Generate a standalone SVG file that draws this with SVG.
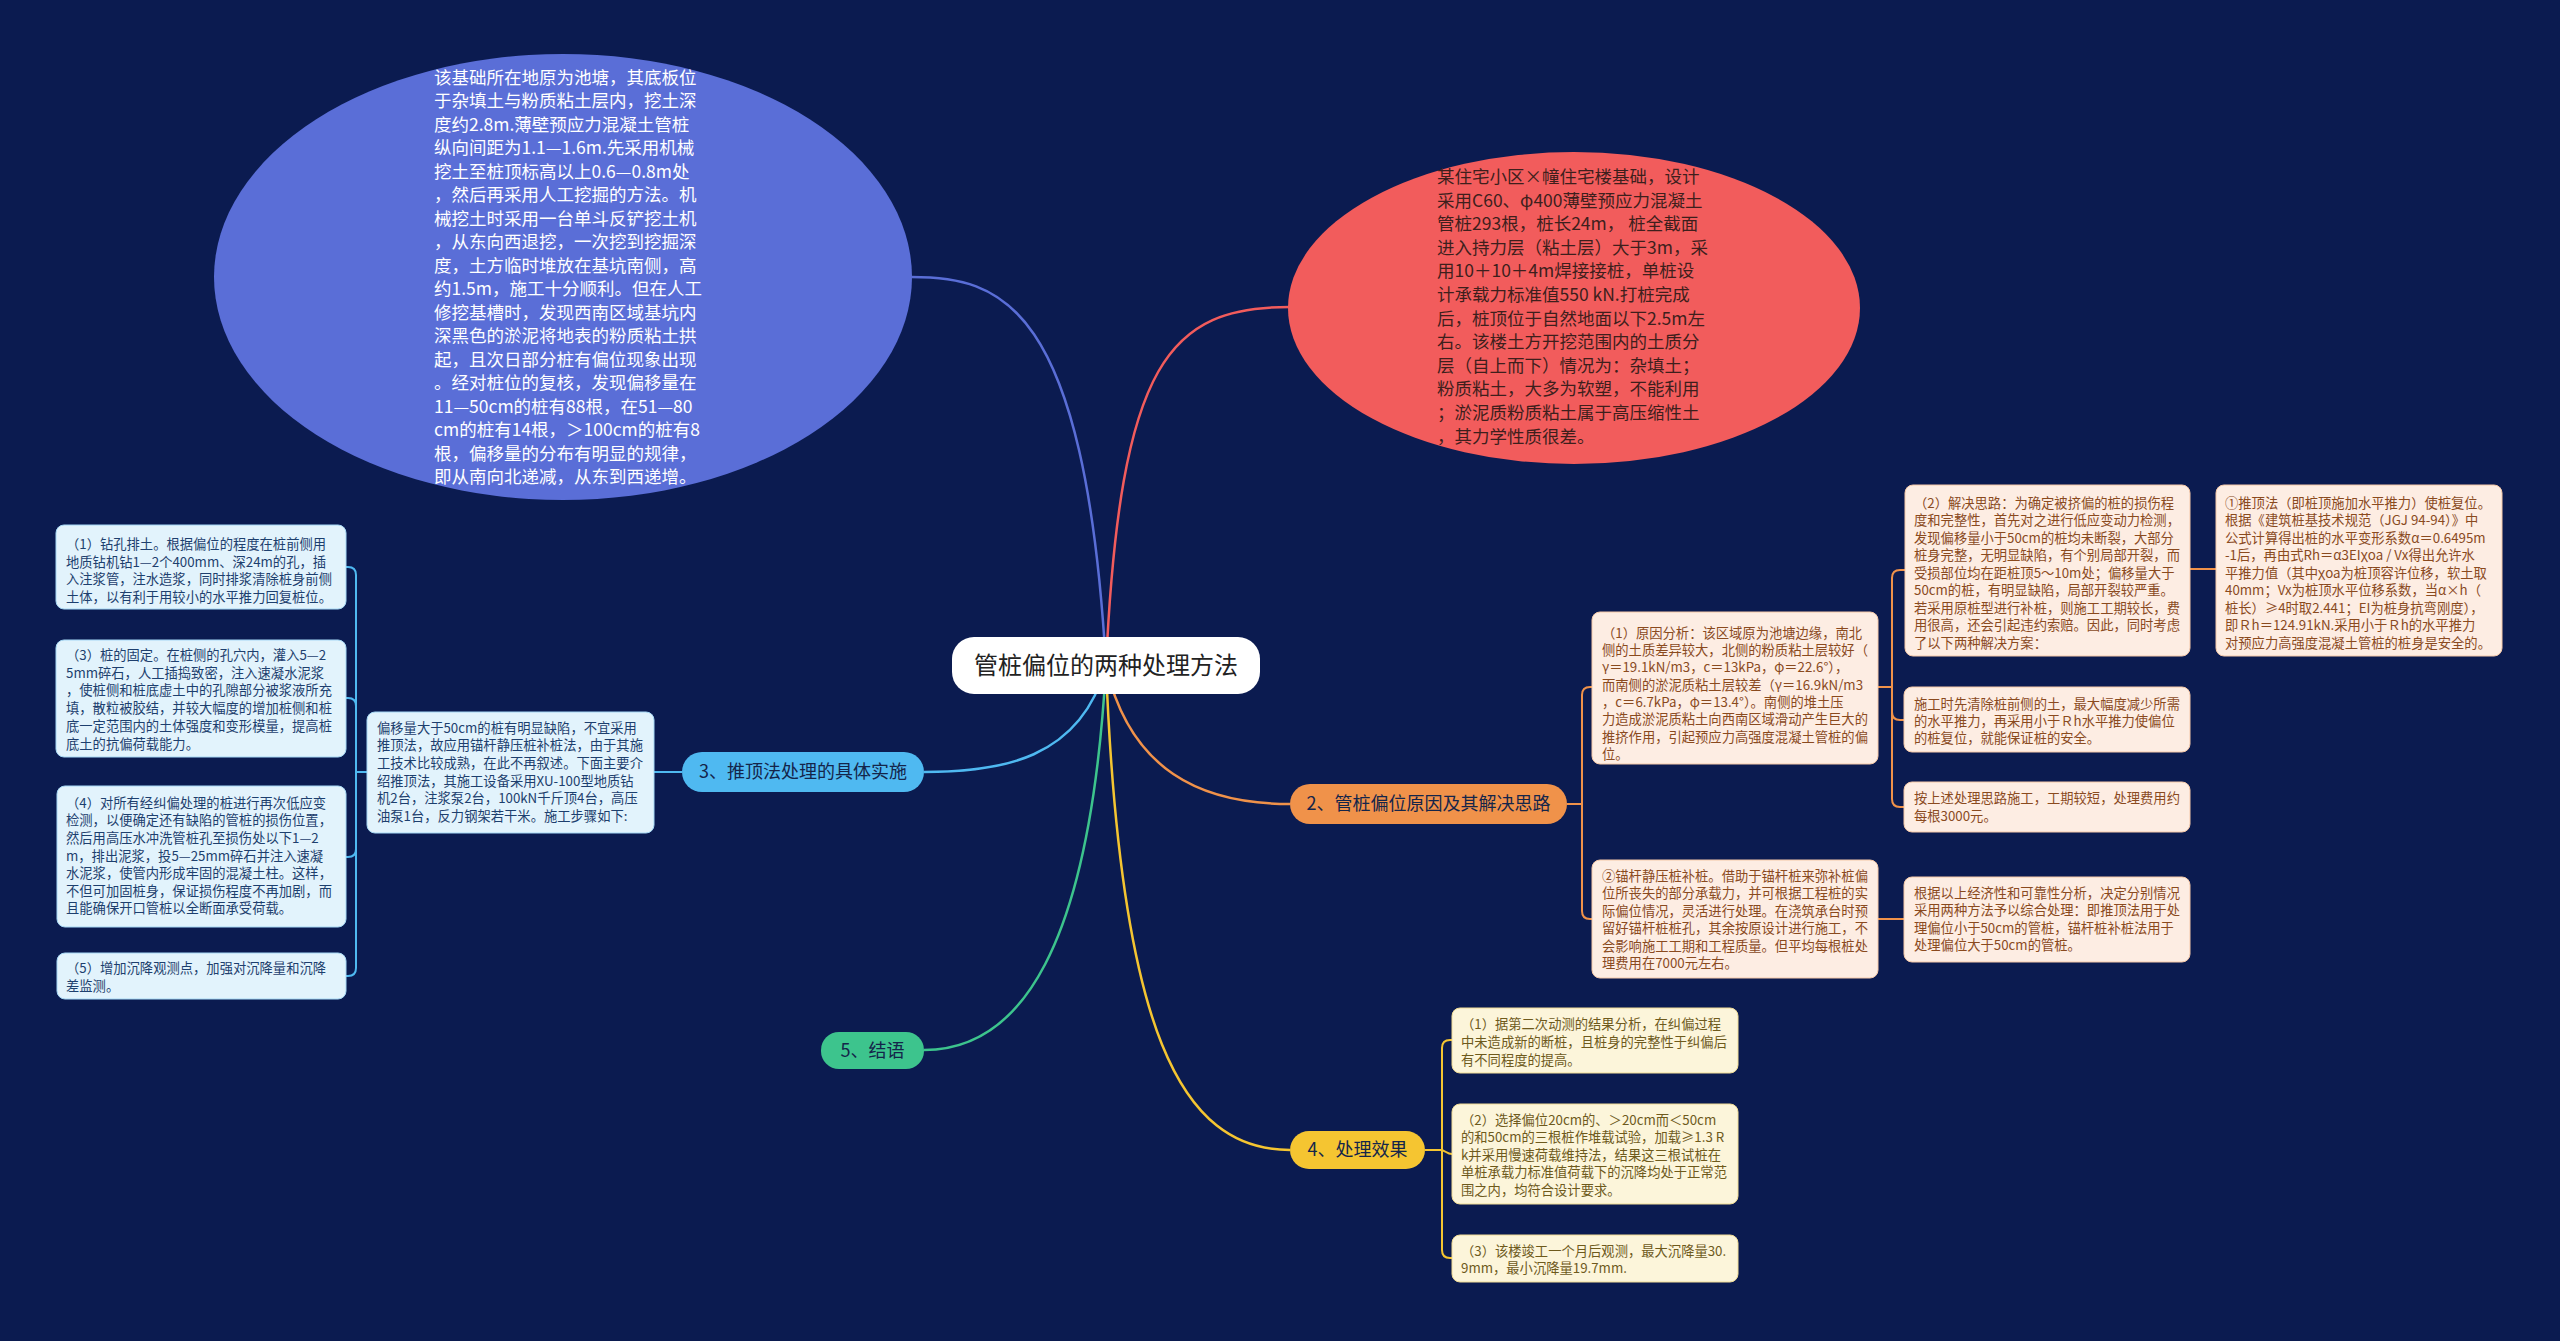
<svg xmlns="http://www.w3.org/2000/svg" width="2560" height="1341" viewBox="0 0 2560 1341">
<style>
text{font-family:"Noto Sans CJK SC","Microsoft YaHei",sans-serif}
.ell{font-size:17.5px}
.sm{font-size:13.3px}
.bl rect{fill:#e2f3fc;stroke:#a6d8f5;stroke-width:1}
.bl text{fill:#1d3f6e}
.or rect{fill:#fdede3;stroke:#f6c9a8;stroke-width:1}
.or text{fill:#8a4a1e}
.ye rect{fill:#fcf5da;stroke:#f1dc95;stroke-width:1}
.ye text{fill:#6e5a1c}
.br text{font-size:18px;fill:#14254a;text-anchor:middle}
.c{fill:none;stroke-width:2.5}
.k{fill:none;stroke-width:2}
</style>
<rect width="2560" height="1341" fill="#0b1b50"/>

<g id="connectors">
<path class="c" stroke="#5a6ed7" d="M1106 666 C1085 300 1000 277 911 277"/>
<path class="c" stroke="#f25c5c" d="M1106 666 C1120 360 1170 307 1290 307"/>
<path class="c" stroke="#4fb9f1" d="M1106 666 C1080 760 1000 772 924 772"/>
<path class="c" stroke="#f0924a" d="M1106 666 C1130 770 1200 804 1290 804"/>
<path class="c" stroke="#3dc48d" d="M1106 666 C1090 950 1020 1050 924 1050"/>
<path class="c" stroke="#f5c531" d="M1106 666 C1120 1030 1180 1150 1290 1150"/>
<path class="k" stroke="#4fb9f1" d="M682 772 L654 772"/>
<path class="k" stroke="#4fb9f1" d="M367 772 L356 772 L356 575 Q356 567 348 567 L346 567"/>
<path class="k" stroke="#4fb9f1" d="M367 772 L356 772 L356 706 Q356 698 348 698 L346 698"/>
<path class="k" stroke="#4fb9f1" d="M367 772 L356 772 L356 849 Q356 857 348 857 L346 857"/>
<path class="k" stroke="#4fb9f1" d="M367 772 L356 772 L356 968 Q356 976 348 976 L346 976"/>
<path class="k" stroke="#f0924a" d="M1567 804 L1582 804 L1582 695 Q1582 687 1590 687 L1592 687"/>
<path class="k" stroke="#f0924a" d="M1567 804 L1582 804 L1582 911 Q1582 919 1590 919 L1592 919"/>
<path class="k" stroke="#f0924a" d="M1878 687 L1892 687 L1892 578 Q1892 570 1900 570 L1905 570"/>
<path class="k" stroke="#f0924a" d="M1878 687 L1892 687 L1892 712 Q1892 720 1900 720 L1904 720"/>
<path class="k" stroke="#f0924a" d="M1878 687 L1892 687 L1892 799 Q1892 807 1900 807 L1904 807"/>
<path class="k" stroke="#f0924a" d="M2190 569 L2216 569"/>
<path class="k" stroke="#f0924a" d="M1878 919 L1904 919"/>
<path class="k" stroke="#f5c531" d="M1425 1150 L1442 1150 L1442 1048 Q1442 1040 1450 1040 L1452 1040"/>
<path class="k" stroke="#f5c531" d="M1425 1150 L1440 1150 C1446 1150 1446 1154 1452 1154"/>
<path class="k" stroke="#f5c531" d="M1425 1150 L1442 1150 L1442 1250 Q1442 1258 1450 1258 L1452 1258"/>
</g>

<g id="root">
<rect x="952" y="637" width="308" height="57" rx="22" fill="#ffffff"/>
<text x="1106" y="674" font-size="24" fill="#222222" text-anchor="middle">管桩偏位的两种处理方法</text>
</g>

<g id="ellipse-blue">
<ellipse cx="563" cy="277" rx="349" ry="223" fill="#5a6ed7"/>
<text class="ell" fill="#ffffff">
<tspan x="434" y="83.5">该基础所在地原为池塘，其底板位</tspan>
<tspan x="434" y="107">于杂填土与粉质粘土层内，挖土深</tspan>
<tspan x="434" y="130.5">度约2.8m.薄壁预应力混凝土管桩</tspan>
<tspan x="434" y="154">纵向间距为1.1—1.6m.先采用机械</tspan>
<tspan x="434" y="177.5">挖土至桩顶标高以上0.6—0.8m处</tspan>
<tspan x="434" y="201">，然后再采用人工挖掘的方法。机</tspan>
<tspan x="434" y="224.5">械挖土时采用一台单斗反铲挖土机</tspan>
<tspan x="434" y="248">，从东向西退挖，一次挖到挖掘深</tspan>
<tspan x="434" y="271.5">度，土方临时堆放在基坑南侧，高</tspan>
<tspan x="434" y="295">约1.5m，施工十分顺利。但在人工</tspan>
<tspan x="434" y="318.5">修挖基槽时，发现西南区域基坑内</tspan>
<tspan x="434" y="342">深黑色的淤泥将地表的粉质粘土拱</tspan>
<tspan x="434" y="365.5">起，且次日部分桩有偏位现象出现</tspan>
<tspan x="434" y="389">。经对桩位的复核，发现偏移量在</tspan>
<tspan x="434" y="412.5">11—50cm的桩有88根，在51—80</tspan>
<tspan x="434" y="436">cm的桩有14根，＞100cm的桩有8</tspan>
<tspan x="434" y="459.5">根，偏移量的分布有明显的规律，</tspan>
<tspan x="434" y="483">即从南向北递减，从东到西递增。</tspan>
</text>
</g>

<g id="ellipse-red">
<ellipse cx="1574" cy="308" rx="286" ry="156" fill="#f25c5c"/>
<text class="ell" fill="#3e1f1c">
<tspan x="1437" y="183">某住宅小区×幢住宅楼基础，设计</tspan>
<tspan x="1437" y="206.6">采用C60、φ400薄壁预应力混凝土</tspan>
<tspan x="1437" y="230.2">管桩293根，桩长24m， 桩全截面</tspan>
<tspan x="1437" y="253.8">进入持力层（粘土层）大于3m，采</tspan>
<tspan x="1437" y="277.4">用10＋10＋4m焊接接桩，单桩设</tspan>
<tspan x="1437" y="301">计承载力标准值550 kN.打桩完成</tspan>
<tspan x="1437" y="324.6">后，桩顶位于自然地面以下2.5m左</tspan>
<tspan x="1437" y="348.2">右。该楼土方开挖范围内的土质分</tspan>
<tspan x="1437" y="371.8">层（自上而下）情况为：杂填土；</tspan>
<tspan x="1437" y="395.4">粉质粘土，大多为软塑，不能利用</tspan>
<tspan x="1437" y="419">；淤泥质粉质粘土属于高压缩性土</tspan>
<tspan x="1437" y="442.6">，其力学性质很差。</tspan>
</text>
</g>

<g id="branch3" class="br">
<rect x="682" y="752" width="242" height="40" rx="20" fill="#4fb9f1"/>
<text x="803" y="778">3、推顶法处理的具体实施</text>
</g>
<g id="branch2" class="br">
<rect x="1290" y="784" width="277" height="40" rx="20" fill="#f0924a"/>
<text x="1428.5" y="810">2、管桩偏位原因及其解决思路</text>
</g>
<g id="branch5" class="br">
<rect x="821" y="1032" width="103" height="37" rx="18" fill="#3dc48d"/>
<text x="872.5" y="1057">5、结语</text>
</g>
<g id="branch4" class="br">
<rect x="1290" y="1131" width="135" height="38" rx="19" fill="#f5c531"/>
<text x="1357.5" y="1156">4、处理效果</text>
</g>

<g id="b0" class="bl">
<rect x="367" y="712" width="287" height="121" rx="8"/>
<text class="sm">
<tspan x="377" y="732.8">偏移量大于50cm的桩有明显缺陷，不宜采用</tspan>
<tspan x="377" y="750.4">推顶法，故应用锚杆静压桩补桩法，由于其施</tspan>
<tspan x="377" y="768">工技术比较成熟，在此不再叙述。下面主要介</tspan>
<tspan x="377" y="785.6">绍推顶法，其施工设备采用XU-100型地质钻</tspan>
<tspan x="377" y="803.2">机2台，注浆泵2台，100kN千斤顶4台，高压</tspan>
<tspan x="377" y="820.8">油泵1台，反力钢架若干米。施工步骤如下:</tspan>
</text>
</g>
<g id="b1" class="bl">
<rect x="56" y="525" width="290" height="84" rx="8"/>
<text class="sm">
<tspan x="66" y="548.8">（1）钻孔排土。根据偏位的程度在桩前侧用</tspan>
<tspan x="66" y="566.5">地质钻机钻1—2个400mm、深24m的孔，插</tspan>
<tspan x="66" y="584.2">入注浆管，注水造浆，同时排浆清除桩身前侧</tspan>
<tspan x="66" y="601.9">土体，以有利于用较小的水平推力回复桩位。</tspan>
</text>
</g>
<g id="b3" class="bl">
<rect x="56" y="640" width="290" height="117" rx="8"/>
<text class="sm">
<tspan x="66" y="659.8">（3）桩的固定。在桩侧的孔穴内，灌入5—2</tspan>
<tspan x="66" y="677.6">5mm碎石，人工插捣致密，注入速凝水泥浆</tspan>
<tspan x="66" y="695.4">，使桩侧和桩底虚土中的孔隙部分被浆液所充</tspan>
<tspan x="66" y="713.2">填，散粒被胶结，并较大幅度的增加桩侧和桩</tspan>
<tspan x="66" y="731">底一定范围内的土体强度和变形模量，提高桩</tspan>
<tspan x="66" y="748.8">底土的抗偏荷载能力。</tspan>
</text>
</g>
<g id="b4" class="bl">
<rect x="57" y="786" width="289" height="141" rx="8"/>
<text class="sm">
<tspan x="66" y="807.8">（4）对所有经纠偏处理的桩进行再次低应变</tspan>
<tspan x="66" y="825.4">检测，以便确定还有缺陷的管桩的损伤位置，</tspan>
<tspan x="66" y="843">然后用高压水冲洗管桩孔至损伤处以下1—2</tspan>
<tspan x="66" y="860.6">m，排出泥浆，投5—25mm碎石并注入速凝</tspan>
<tspan x="66" y="878.2">水泥浆，使管内形成牢固的混凝土柱。这样，</tspan>
<tspan x="66" y="895.8">不但可加固桩身，保证损伤程度不再加剧，而</tspan>
<tspan x="66" y="913.4">且能确保开口管桩以全断面承受荷载。</tspan>
</text>
</g>
<g id="b5" class="bl">
<rect x="57" y="953" width="289" height="46" rx="8"/>
<text class="sm">
<tspan x="66" y="972.8">（5）增加沉降观测点，加强对沉降量和沉降</tspan>
<tspan x="66" y="990.8">差监测。</tspan>
</text>
</g>

<g id="o1" class="or">
<rect x="1592" y="612" width="286" height="152" rx="8"/>
<text class="sm">
<tspan x="1602" y="637.8">（1）原因分析：该区域原为池塘边缘，南北</tspan>
<tspan x="1602" y="655.1">侧的土质差异较大，北侧的粉质粘土层较好（</tspan>
<tspan x="1602" y="672.4">γ＝19.1kN/m3，c＝13kPa，φ＝22.6°），</tspan>
<tspan x="1602" y="689.7">而南侧的淤泥质粘土层较差（γ＝16.9kN/m3</tspan>
<tspan x="1602" y="707">，c＝6.7kPa，φ＝13.4°）。南侧的堆土压</tspan>
<tspan x="1602" y="724.3">力造成淤泥质粘土向西南区域滑动产生巨大的</tspan>
<tspan x="1602" y="741.6">推挤作用，引起预应力高强度混凝土管桩的偏</tspan>
<tspan x="1602" y="758.9">位。</tspan>
</text>
</g>
<g id="o2" class="or">
<rect x="1905" y="485" width="285" height="171" rx="8"/>
<text class="sm">
<tspan x="1914" y="507.8">（2）解决思路：为确定被挤偏的桩的损伤程</tspan>
<tspan x="1914" y="525.3">度和完整性，首先对之进行低应变动力检测，</tspan>
<tspan x="1914" y="542.8">发现偏移量小于50cm的桩均未断裂，大部分</tspan>
<tspan x="1914" y="560.3">桩身完整，无明显缺陷，有个别局部开裂，而</tspan>
<tspan x="1914" y="577.8">受损部位均在距桩顶5～10m处；偏移量大于</tspan>
<tspan x="1914" y="595.3">50cm的桩，有明显缺陷，局部开裂较严重。</tspan>
<tspan x="1914" y="612.8">若采用原桩型进行补桩，则施工工期较长，费</tspan>
<tspan x="1914" y="630.3">用很高，还会引起违约索赔。因此，同时考虑</tspan>
<tspan x="1914" y="647.8">了以下两种解决方案：</tspan>
</text>
</g>
<g id="o3" class="or">
<rect x="2216" y="485" width="286" height="171" rx="8"/>
<text class="sm">
<tspan x="2225" y="507.8">①推顶法（即桩顶施加水平推力）使桩复位。</tspan>
<tspan x="2225" y="525.3">根据《建筑桩基技术规范（JGJ 94-94）》中</tspan>
<tspan x="2225" y="542.8">公式计算得出桩的水平变形系数α＝0.6495m</tspan>
<tspan x="2225" y="560.3">-1后，再由式Rh＝α3EIχoa / Vx得出允许水</tspan>
<tspan x="2225" y="577.8">平推力值（其中χoa为桩顶容许位移，软土取</tspan>
<tspan x="2225" y="595.3">40mm；Vx为桩顶水平位移系数，当α×h（</tspan>
<tspan x="2225" y="612.8">桩长）≥4时取2.441；EI为桩身抗弯刚度），</tspan>
<tspan x="2225" y="630.3">即Ｒh＝124.91kN.采用小于Ｒh的水平推力</tspan>
<tspan x="2225" y="647.8">对预应力高强度混凝土管桩的桩身是安全的。</tspan>
</text>
</g>
<g id="o4" class="or">
<rect x="1904" y="687" width="286" height="65" rx="8"/>
<text class="sm">
<tspan x="1914" y="708.8">施工时先清除桩前侧的土，最大幅度减少所需</tspan>
<tspan x="1914" y="726">的水平推力，再采用小于Ｒh水平推力使偏位</tspan>
<tspan x="1914" y="743.2">的桩复位，就能保证桩的安全。</tspan>
</text>
</g>
<g id="o5" class="or">
<rect x="1904" y="782" width="286" height="50" rx="8"/>
<text class="sm">
<tspan x="1914" y="802.8">按上述处理思路施工，工期较短，处理费用约</tspan>
<tspan x="1914" y="820.8">每根3000元。</tspan>
</text>
</g>
<g id="o6" class="or">
<rect x="1592" y="860" width="286" height="118" rx="8"/>
<text class="sm">
<tspan x="1602" y="880.8">②锚杆静压桩补桩。借助于锚杆桩来弥补桩偏</tspan>
<tspan x="1602" y="898.3">位所丧失的部分承载力，并可根据工程桩的实</tspan>
<tspan x="1602" y="915.8">际偏位情况，灵活进行处理。在浇筑承台时预</tspan>
<tspan x="1602" y="933.3">留好锚杆桩桩孔，其余按原设计进行施工，不</tspan>
<tspan x="1602" y="950.8">会影响施工工期和工程质量。但平均每根桩处</tspan>
<tspan x="1602" y="968.3">理费用在7000元左右。</tspan>
</text>
</g>
<g id="o7" class="or">
<rect x="1904" y="877" width="286" height="85" rx="8"/>
<text class="sm">
<tspan x="1914" y="897.8">根据以上经济性和可靠性分析，决定分别情况</tspan>
<tspan x="1914" y="915.3">采用两种方法予以综合处理：即推顶法用于处</tspan>
<tspan x="1914" y="932.8">理偏位小于50cm的管桩，锚杆桩补桩法用于</tspan>
<tspan x="1914" y="950.3">处理偏位大于50cm的管桩。</tspan>
</text>
</g>

<g id="y1" class="ye">
<rect x="1452" y="1008" width="286" height="65" rx="8"/>
<text class="sm">
<tspan x="1461" y="1028.8">（1）据第二次动测的结果分析，在纠偏过程</tspan>
<tspan x="1461" y="1046.8">中未造成新的断桩，且桩身的完整性于纠偏后</tspan>
<tspan x="1461" y="1064.8">有不同程度的提高。</tspan>
</text>
</g>
<g id="y2" class="ye">
<rect x="1452" y="1104" width="286" height="100" rx="8"/>
<text class="sm">
<tspan x="1461" y="1124.8">（2）选择偏位20cm的、＞20cm而＜50cm</tspan>
<tspan x="1461" y="1142.3">的和50cm的三根桩作堆载试验，加载≥1.3 R</tspan>
<tspan x="1461" y="1159.8">k并采用慢速荷载维持法，结果这三根试桩在</tspan>
<tspan x="1461" y="1177.3">单桩承载力标准值荷载下的沉降均处于正常范</tspan>
<tspan x="1461" y="1194.8">围之内，均符合设计要求。</tspan>
</text>
</g>
<g id="y3" class="ye">
<rect x="1452" y="1235" width="286" height="47" rx="8"/>
<text class="sm">
<tspan x="1461" y="1255.8">（3）该楼竣工一个月后观测，最大沉降量30.</tspan>
<tspan x="1461" y="1272.8">9mm，最小沉降量19.7mm.</tspan>
</text>
</g>
</svg>
